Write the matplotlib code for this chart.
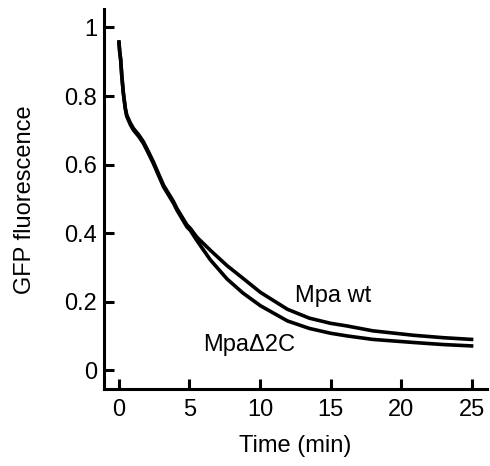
import numpy as np
import matplotlib.pyplot as plt

plt.rcParams['font.family'] = ['Liberation Sans', 'DejaVu Sans']

# time (min) and normalised GFP fluorescence
t_wt = [0.0, 0.05, 0.12, 0.2, 0.31, 0.45, 0.55, 0.8, 1.02, 1.4, 1.73, 2.1, 2.44,
        2.8, 3.16, 3.87, 4.11, 4.82, 5.06, 5.53, 6.48, 7.67, 8.8, 10.04, 11.94,
        13.5, 15.0, 16.2, 18.0, 20.9, 23.0, 25.0]
gfp_wt = [0.958, 0.93, 0.908, 0.86, 0.81, 0.765, 0.745, 0.722, 0.706, 0.687, 0.667,
          0.637, 0.608, 0.574, 0.540, 0.492, 0.472, 0.424, 0.414, 0.388, 0.350,
          0.305, 0.268, 0.227, 0.178, 0.152, 0.137, 0.129, 0.115, 0.102, 0.095, 0.090]

t_d2c = [0.0, 0.05, 0.12, 0.2, 0.31, 0.45, 0.55, 0.8, 1.02, 1.4, 1.73, 2.1, 2.44,
         2.8, 3.16, 3.87, 4.11, 4.82, 5.06, 5.53, 6.48, 7.67, 8.8, 10.04, 11.94,
         13.5, 15.0, 16.2, 18.0, 20.9, 23.0, 25.0]
gfp_d2c = [0.955, 0.93, 0.905, 0.858, 0.808, 0.762, 0.741, 0.717, 0.701, 0.682, 0.662,
           0.632, 0.603, 0.569, 0.535, 0.487, 0.467, 0.418, 0.408, 0.378, 0.322,
           0.266, 0.225, 0.188, 0.144, 0.122, 0.108, 0.100, 0.090, 0.081, 0.075, 0.071]

xticks = [0, 5, 10, 15, 20, 25]
yticks = [0, 0.2, 0.4, 0.6, 0.8, 1]
yticklabels = ['0', '0.2', '0.4', '0.6', '0.8', '1']

fig = plt.figure(figsize=(4.9, 4.66), dpi=100)
ax = fig.add_axes([0.212, 0.165, 0.782, 0.815])

ax.plot(t_wt, gfp_wt, color='black', lw=2.6, solid_joinstyle='round')
ax.plot(t_d2c, gfp_d2c, color='black', lw=2.6, solid_joinstyle='round')

ax.text(12.5, 0.216, 'Mpa wt', fontsize=17, va='center', ha='left')
ax.text(6.0, 0.073, 'Mpa\u03942C', fontsize=17, va='center', ha='left')

ax.set_xlim(-1.07, 26.1)
ax.set_ylim(-0.055, 1.053)
ax.set_xticks(xticks)
ax.set_yticks(yticks)
ax.set_yticklabels(yticklabels)

for s in ['top', 'right']:
    ax.spines[s].set_visible(False)
for s in ['left', 'bottom']:
    ax.spines[s].set_linewidth(2.2)

ax.tick_params(direction='in', length=7, width=2.2, labelsize=17)
ax.tick_params(axis='x', pad=7)
ax.tick_params(axis='y', pad=5)
ax.set_xlabel('Time (min)', fontsize=17, labelpad=10)
ax.set_ylabel('GFP fluorescence', fontsize=17, labelpad=20)

fig.savefig('out.png', dpi=100)
